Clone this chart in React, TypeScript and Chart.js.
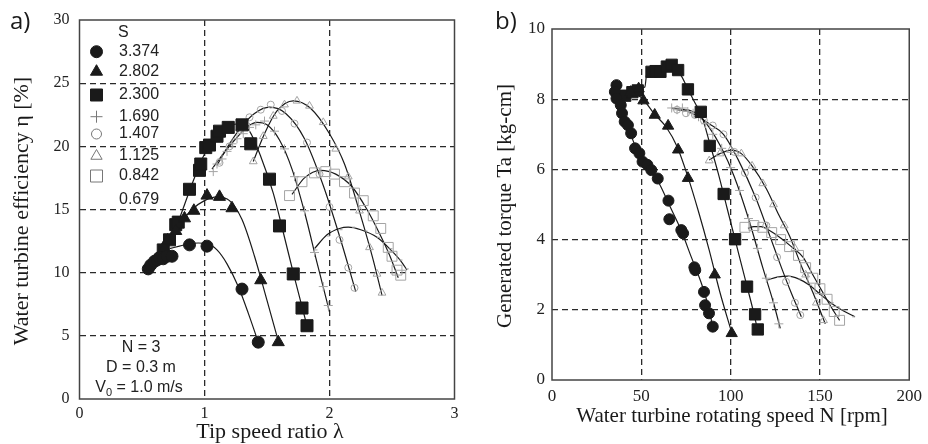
import React, { useEffect, useRef } from "react";
import { Chart, registerables } from "chart.js";
Chart.register(...registerables);

type Pt = [number, number];

// ---------------- Panel a: efficiency vs tip speed ratio ----------------
const aXTicks = [0, 1, 2, 3];
const aYTicks = [0, 5, 10, 15, 20, 25, 30];
const aLegendLabels = ["3.374", "2.802", "2.300", "1.690", "1.407", "1.125", "0.842", "0.679"];

const aS3374: Pt[] = [[0.55, 10.3], [0.57, 10.6], [0.6, 10.9], [0.62, 11.0], [0.64, 11.2], [0.67, 11.1], [0.7, 11.3], [0.74, 11.3], [0.88, 12.2], [1.02, 12.1], [1.3, 8.7], [1.43, 4.5]];
const aS3374Fit: Pt[] = [[0.72, 11.9], [0.8, 12.1], [0.88, 12.3], [0.95, 12.35], [1.02, 12.3], [1.1, 11.8], [1.18, 10.7], [1.27, 8.9], [1.35, 6.8], [1.43, 4.5]];
const aS2802: Pt[] = [[0.68, 11.9], [0.705, 12.55], [0.77, 13.3], [0.84, 14.3], [0.915, 14.9], [1.02, 16.1], [1.12, 16.0], [1.22, 15.1], [1.45, 9.4], [1.59, 4.5]];
const aS2802Fit: Pt[] = [[0.7, 12.0], [0.8, 13.8], [0.9, 15.0], [1.0, 15.7], [1.1, 16.0], [1.2, 15.7], [1.3, 14.2], [1.4, 11.3], [1.5, 7.8], [1.59, 4.6]];
const aS2300: Pt[] = [[0.67, 11.8], [0.72, 12.6], [0.77, 13.8], [0.79, 14.0], [0.88, 16.6], [0.96, 18.1], [0.97, 18.6], [1.01, 19.9], [1.04, 20.1], [1.1, 20.8], [1.12, 21.2], [1.19, 21.5], [1.3, 21.7], [1.37, 20.2], [1.52, 17.4], [1.6, 13.7], [1.71, 9.9], [1.78, 7.2], [1.82, 5.8]];
const aS2300Fit: Pt[] = [[0.72, 12.4], [0.8, 14.3], [0.9, 17.0], [1.0, 19.4], [1.1, 20.9], [1.2, 21.6], [1.28, 21.8], [1.36, 21.2], [1.45, 19.2], [1.55, 16.3], [1.63, 13.2], [1.72, 9.6], [1.82, 5.8]];
const aS1690: Pt[] = [[1.07, 18.0], [1.1, 18.6], [1.14, 19.0], [1.18, 19.6], [1.22, 20.2], [1.26, 20.6], [1.31, 21.0], [1.36, 21.5], [1.41, 21.7], [1.48, 22.0], [1.56, 21.2], [1.64, 19.8], [1.72, 17.6], [1.8, 14.9], [1.88, 11.6], [1.95, 8.9], [1.99, 7.4]];
const aS1690Fit: Pt[] = [[1.06, 18.2], [1.15, 19.4], [1.25, 20.6], [1.35, 21.6], [1.42, 21.9], [1.5, 21.7], [1.6, 20.5], [1.7, 18.2], [1.8, 14.8], [1.9, 10.8], [2.0, 6.9]];
const aS1407: Pt[] = [[1.12, 18.7], [1.2, 20.0], [1.28, 21.3], [1.36, 22.3], [1.45, 22.9], [1.53, 23.3], [1.62, 22.8], [1.72, 21.8], [1.82, 20.3], [1.92, 17.8], [2.0, 15.2], [2.08, 12.6], [2.15, 10.4], [2.2, 8.8]];
const aS1407Fit: Pt[] = [[1.1, 18.5], [1.2, 20.2], [1.3, 21.6], [1.4, 22.6], [1.52, 23.1], [1.65, 22.6], [1.8, 20.6], [1.95, 16.9], [2.08, 12.9], [2.21, 8.5]];
const aS1125: Pt[] = [[1.39, 18.8], [1.47, 20.8], [1.55, 22.4], [1.64, 23.3], [1.74, 23.6], [1.84, 23.2], [1.95, 21.9], [2.05, 19.8], [2.15, 17.6], [2.24, 14.9], [2.32, 12.0], [2.38, 9.9], [2.42, 8.4]];
const aS1125Fit: Pt[] = [[1.39, 18.8], [1.48, 21.0], [1.58, 22.8], [1.71, 23.6], [1.85, 23.0], [2.0, 21.0], [2.12, 18.6], [2.25, 14.5], [2.35, 11.0], [2.42, 8.2]];
const aS0842: Pt[] = [[1.68, 16.1], [1.78, 17.2], [1.88, 17.9], [1.97, 18.0], [2.04, 17.8], [2.12, 17.2], [2.2, 16.3], [2.27, 15.7], [2.35, 14.5], [2.41, 13.5], [2.47, 12.0], [2.5, 11.3], [2.54, 10.2], [2.57, 9.8]];
const aS0842Fit: Pt[] = [[1.7, 16.2], [1.8, 17.5], [1.93, 18.1], [2.05, 17.8], [2.18, 16.8], [2.3, 15.0], [2.4, 13.1], [2.48, 11.4], [2.55, 9.6]];
const aS0679: Pt[] = [[1.88, 11.8], [1.98, 12.9], [2.08, 13.4], [2.18, 13.6], [2.28, 13.3], [2.38, 12.8], [2.48, 11.9], [2.56, 11.0], [2.61, 10.3]];
const aS0679Fit: Pt[] = [[1.88, 11.9], [1.98, 13.0], [2.08, 13.5], [2.15, 13.6], [2.25, 13.4], [2.38, 12.8], [2.5, 11.7], [2.58, 10.8], [2.62, 10.2]];

// ---------------- Panel b: torque vs rotating speed ----------------
const bXTicks = [0, 50, 100, 150, 200];
const bYTicks = [0, 2, 4, 6, 8, 10];

const bS3374: Pt[] = [[36.1, 8.4], [35.2, 8.21], [36.1, 8.02], [38.5, 7.83], [39.2, 7.6], [40.7, 7.36], [42.5, 7.26], [44.3, 7.03], [46.5, 6.6], [48.9, 6.46], [50.7, 6.22], [53.4, 6.13], [55.6, 5.98], [59.2, 5.74], [65.2, 5.11], [65.7, 4.58], [72.4, 4.27], [73.4, 4.18], [79.7, 3.21], [80.2, 3.13], [85.1, 2.51], [85.7, 2.13], [87.9, 1.9], [90.0, 1.52]];
const bS3374Fit: Pt[] = [[35.5, 8.4], [37, 8.0], [40, 7.5], [44, 7.0], [48, 6.5], [54, 6.05], [60, 5.6], [66, 4.95], [72, 4.3], [78, 3.5], [84, 2.7], [88, 2.0], [90, 1.5]];
const bS2802: Pt[] = [[44, 8.2], [48.5, 8.3], [51.2, 7.96], [57.5, 7.55], [65, 7.24], [70.6, 6.56], [76.1, 5.75], [91.1, 3.0], [100.6, 1.33]];
const bS2802Fit: Pt[] = [[43, 8.2], [50, 8.05], [57, 7.6], [64, 7.2], [70, 6.65], [76, 5.8], [82, 4.8], [88, 3.7], [94, 2.5], [100.6, 1.35]];
const bS2300: Pt[] = [[41, 8.1], [45, 8.2], [48, 8.25], [55.7, 8.78], [58, 8.8], [60.7, 8.78], [64.3, 8.93], [67, 8.98], [70.6, 8.83], [76.1, 8.28], [83.3, 7.64], [88.3, 6.67], [96.1, 5.3], [102.5, 4.01], [109.2, 2.66], [113.7, 1.87], [115.2, 1.44]];
const bS2300Fit: Pt[] = [[48, 8.3], [52, 8.35], [53, 8.7], [58, 8.8], [64, 8.95], [68, 8.95], [72, 8.7], [76, 8.3], [80, 7.9], [84, 7.5], [88, 6.8], [93, 5.9], [98, 4.9], [103, 3.9], [108, 2.9], [113, 1.9], [115, 1.45]];
const bS1690: Pt[] = [[67, 7.75], [70, 7.7], [73, 7.75], [76, 7.65], [79, 7.6], [82, 7.5], [86, 7.3], [90, 7.0], [95, 6.6], [100, 6.05], [105, 5.4], [110, 4.6], [115, 3.75], [120, 2.9], [124, 2.2], [127, 1.6]];
const bS1690Fit: Pt[] = [[67, 7.75], [72, 7.72], [77, 7.68], [82, 7.55], [88, 7.2], [95, 6.6], [102, 5.8], [110, 4.6], [118, 3.2], [124, 2.2], [127.8, 1.47]];
const bS1407: Pt[] = [[70, 7.7], [75, 7.6], [80, 7.55], [85, 7.4], [90, 7.25], [96, 7.0], [102, 6.5], [108, 5.9], [114, 5.2], [120, 4.4], [126, 3.5], [131, 2.8], [136, 2.2], [139, 1.85]];
const bS1407Fit: Pt[] = [[70, 7.7], [76, 7.65], [82, 7.5], [88, 7.3], [96, 7.0], [104, 6.3], [114, 5.2], [122, 4.1], [127, 3.4], [133, 2.6], [139.6, 1.8]];
const bS1125: Pt[] = [[88, 6.25], [94, 6.45], [100, 6.55], [106, 6.45], [112, 6.1], [118, 5.6], [124, 5.0], [130, 4.4], [136, 3.75], [142, 3.0], [148, 2.2], [152, 1.7]];
const bS1125Fit: Pt[] = [[88, 6.27], [94, 6.45], [100.6, 6.55], [106, 6.45], [112, 6.1], [120, 5.45], [127, 4.7], [133, 4.1], [140, 3.2], [146, 2.5], [153, 1.6]];
const bS0842: Pt[] = [[108, 4.35], [113, 4.4], [118, 4.35], [123, 4.2], [128, 4.0], [133, 3.8], [138, 3.55], [142, 3.2], [146, 2.9], [150, 2.6], [154, 2.3], [158, 1.95], [161, 1.7]];
const bS0842Fit: Pt[] = [[109.7, 4.32], [113, 4.37], [117, 4.37], [122, 4.25], [127.8, 4.05], [134, 3.8], [140.5, 3.5], [146, 3.0], [151, 2.55], [156, 2.1], [161, 1.7]];
const bS0679: Pt[] = [[120, 2.85], [126, 2.92], [132, 2.95], [138, 2.88], [144, 2.7], [150, 2.45], [156, 2.2], [162, 2.0], [168, 1.8]];
const bS0679Fit: Pt[] = [[120.5, 2.85], [126, 2.93], [132.4, 2.96], [138, 2.88], [144.2, 2.7], [150, 2.45], [156, 2.2], [162, 2.0], [169.6, 1.8]];

// ---------------- styling helpers ----------------
const INK = "#1a1a1a";
const FAINT = "#a4a4a4";
const SERIF = "'Liberation Serif', 'DejaVu Serif', serif";
const SANS = "'Liberation Sans', Arial, sans-serif";

const pts = (d: Pt[]) => d.map(([x, y]) => ({ x, y }));

function solid(d: Pt[], style: string, radius: number) {
  return {
    data: pts(d), showLine: false, pointStyle: style, pointRadius: radius,
    pointBackgroundColor: INK, pointBorderColor: INK, pointBorderWidth: 1,
  };
}
function faint(d: Pt[], style: string, radius: number) {
  return {
    data: pts(d), showLine: false, pointStyle: style, pointRadius: radius,
    pointBackgroundColor: "rgba(0,0,0,0)", pointBorderColor: FAINT, pointBorderWidth: 1,
  };
}
function fit(d: Pt[]) {
  return {
    data: pts(d), showLine: true, pointRadius: 0, borderColor: INK, borderWidth: 1.2,
    cubicInterpolationMode: "monotone", fill: false,
  };
}

function gridColor(minV: number, maxV: number) {
  return (ctx: any) => {
    const v = ctx.tick ? ctx.tick.value : null;
    return v === minV || v === maxV ? "rgba(0,0,0,0)" : "#2a2a2a";
  };
}

function axis(ticks: number[], fontSize: number, pad: number, fitSize: number, isX: boolean) {
  const minV = ticks[0];
  const maxV = ticks[ticks.length - 1];
  return {
    type: "linear",
    min: minV, max: maxV,
    afterBuildTicks: (s: any) => { s.ticks = ticks.map((v) => ({ value: v })); },
    afterFit: (s: any) => { if (isX) s.height = fitSize; else s.width = fitSize; },
    grid: { color: gridColor(minV, maxV), lineWidth: 1.3, drawTicks: false },
    border: { display: false, dash: [6, 4] },
    ticks: { font: { family: SERIF, size: fontSize }, color: "#222", padding: pad, maxRotation: 0, autoSkip: false },
  };
}

function drawMarker(ctx: CanvasRenderingContext2D, kind: string, x: number, y: number, filled: boolean) {
  ctx.save();
  ctx.fillStyle = filled ? INK : "rgba(0,0,0,0)";
  ctx.strokeStyle = filled ? INK : "#777";
  ctx.lineWidth = 1;
  ctx.beginPath();
  if (kind === "circle") ctx.arc(x, y, filled ? 6 : 5, 0, Math.PI * 2);
  else if (kind === "triangle") { const r = filled ? 7 : 6.5; ctx.moveTo(x, y - r); ctx.lineTo(x + r * 0.866, y + r * 0.5); ctx.lineTo(x - r * 0.866, y + r * 0.5); ctx.closePath(); }
  else if (kind === "rect") { const s = 6; ctx.rect(x - s, y - s, 2 * s, 2 * s); }
  else if (kind === "cross") { ctx.moveTo(x - 6, y); ctx.lineTo(x + 6, y); ctx.moveTo(x, y - 6); ctx.lineTo(x, y + 6); }
  if (filled) ctx.fill();
  ctx.stroke();
  ctx.restore();
}

function framePlugin(id: string) {
  return {
    id,
    beforeDatasetsDraw(chart: any) {
      const { left, top, right, bottom } = chart.chartArea;
      const ctx = chart.ctx;
      ctx.save();
      ctx.strokeStyle = "#444";
      ctx.lineWidth = 1.5;
      ctx.strokeRect(left, top, right - left, bottom - top);
      ctx.restore();
    },
  };
}

const textAPlugin = {
  id: "textA",
  afterDraw(chart: any) {
    const ctx: CanvasRenderingContext2D = chart.ctx;
    ctx.save();
    ctx.fillStyle = INK;
    ctx.textBaseline = "middle";
    ctx.font = `24px 'Open Sans', ${SANS}`;
    ctx.textAlign = "left";
    ctx.fillText("a)", 10, 22);
    ctx.font = `22px ${SERIF}`;
    ctx.textAlign = "center";
    ctx.fillText("Tip speed ratio \u03bb", 270, 432);
    ctx.save();
    ctx.translate(22, 211);
    ctx.rotate(-Math.PI / 2);
    ctx.fillText("Water turbine efficiency \u03b7 [%]", 0, 0);
    ctx.restore();
    ctx.font = `16px ${SANS}`;
    ctx.fillStyle = "#222";
    ctx.textAlign = "left";
    ctx.fillText("S", 118, 33);
    const rows = [51.7, 71.7, 95, 116.7, 134, 156, 176, 199.3];
    const kinds = ["circle", "triangle", "rect", "cross", "circle", "triangle", "rect", ""];
    const filled = [true, true, true, false, false, false, false, false];
    aLegendLabels.forEach((lab, i) => {
      if (kinds[i]) drawMarker(ctx, kinds[i], 96.5, rows[i], filled[i]);
      ctx.fillStyle = "#222";
      ctx.fillText(lab, 119, rows[i]);
    });
    ctx.textAlign = "center";
    ctx.fillText("N = 3", 141, 348);
    ctx.fillText("D = 0.3 m", 141, 368);
    const main1 = "V";
    const sub = "0";
    const rest = " = 1.0 m/s";
    ctx.font = `16px ${SANS}`;
    const w1 = ctx.measureText(main1).width;
    const w3 = ctx.measureText(rest).width;
    ctx.font = `11px ${SANS}`;
    const w2 = ctx.measureText(sub).width;
    const total = w1 + w2 + w3;
    let x = 139 - total / 2;
    ctx.textAlign = "left";
    ctx.font = `16px ${SANS}`;
    ctx.fillText(main1, x, 388);
    x += w1;
    ctx.font = `11px ${SANS}`;
    ctx.fillText(sub, x, 393);
    x += w2;
    ctx.font = `16px ${SANS}`;
    ctx.fillText(rest, x, 388);
    ctx.restore();
  },
};

const textBPlugin = {
  id: "textB",
  afterDraw(chart: any) {
    const ctx: CanvasRenderingContext2D = chart.ctx;
    ctx.save();
    ctx.fillStyle = INK;
    ctx.textBaseline = "middle";
    ctx.font = `24px 'Open Sans', ${SANS}`;
    ctx.textAlign = "left";
    ctx.fillText("b)", 31, 22);
    ctx.font = `21px ${SERIF}`;
    ctx.textAlign = "center";
    ctx.fillText("Water turbine rotating speed N [rpm]", 268, 416);
    ctx.save();
    ctx.translate(41, 206);
    ctx.rotate(-Math.PI / 2);
    ctx.fillText("Generated torque Ta [kg-cm]", 0, 0);
    ctx.restore();
    ctx.restore();
  },
};

function makeConfig(datasets: any[], xAxis: any, yAxis: any, padding: any, plugins: any[]) {
  return {
    type: "scatter",
    data: { datasets },
    options: {
      responsive: false,
      animation: false,
      events: [],
      layout: { padding },
      scales: { x: xAxis, y: yAxis },
      plugins: { legend: { display: false }, tooltip: { enabled: false } },
    },
    plugins,
  } as any;
}

export default function App() {
  const refA = useRef<HTMLCanvasElement>(null);
  const refB = useRef<HTMLCanvasElement>(null);

  useEffect(() => {
    document.body.style.margin = "0";
    const dsA = [
      solid(aS3374, "circle", 6),
      solid(aS2802, "triangle", 7),
      solid(aS2300, "rect", 8.5),
      faint(aS1690, "cross", 4.5),
      faint(aS1407, "circle", 3.5),
      faint(aS1125, "triangle", 4.5),
      faint(aS0842, "rect", 7),
      faint(aS0679, "dash", 3),
      fit(aS3374Fit), fit(aS2802Fit), fit(aS2300Fit), fit(aS1690Fit),
      fit(aS1407Fit), fit(aS1125Fit), fit(aS0842Fit), fit(aS0679Fit),
    ];
    const dsB = [
      solid(bS3374, "circle", 5.5),
      solid(bS2802, "triangle", 6.5),
      solid(bS2300, "rect", 8),
      faint(bS1690, "cross", 4.5),
      faint(bS1407, "circle", 3.5),
      faint(bS1125, "triangle", 4.5),
      faint(bS0842, "rect", 7),
      faint(bS0679, "dash", 3),
      fit(bS3374Fit), fit(bS2802Fit), fit(bS2300Fit), fit(bS1690Fit),
      fit(bS1407Fit), fit(bS1125Fit), fit(bS0842Fit), fit(bS0679Fit),
    ];
    const chartA = new Chart(refA.current as HTMLCanvasElement, makeConfig(
      dsA,
      axis(aXTicks, 16, 5, 45, true),
      axis(aYTicks, 16, 10, 79.5, false),
      { top: 20, right: 7, left: 0, bottom: 0 },
      [framePlugin("frameA"), textAPlugin],
    ));
    const chartB = new Chart(refB.current as HTMLCanvasElement, makeConfig(
      dsB,
      axis(bXTicks, 17, 6, 64, true),
      axis(bYTicks, 17, 7, 88, false),
      { top: 29, right: 9, left: 0, bottom: 0 },
      [framePlugin("frameB"), textBPlugin],
    ));
    return () => { chartA.destroy(); chartB.destroy(); };
  }, []);

  return (
    <div style={{ position: "absolute", left: 0, top: 0, width: 928, height: 444, background: "#fff" }}>
      <canvas ref={refA} width={464} height={444} style={{ position: "absolute", left: 0, top: 0 }} />
      <canvas ref={refB} width={464} height={444} style={{ position: "absolute", left: 464, top: 0 }} />
    </div>
  );
}
